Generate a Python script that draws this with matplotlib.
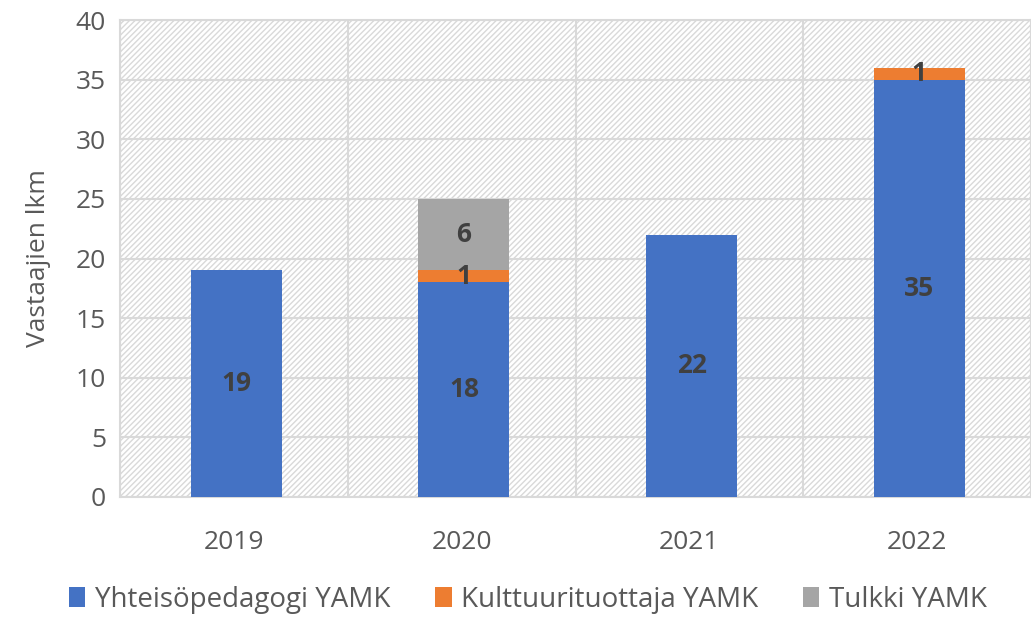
import matplotlib.pyplot as plt
import numpy as np

plt.rcParams['font.family'] = ['Open Sans', 'DejaVu Sans']
plt.rcParams['hatch.color'] = '#d9d9d9'
plt.rcParams['hatch.linewidth'] = 1.0

# Data
years = ["2019", "2020", "2021", "2022"]
yhteiso = [19, 18, 22, 35]
kulttuuri = [0, 1, 0, 1]
tulkki = [0, 6, 0, 0]

series_names = ["Yhteisöpedagogi YAMK", "Kulttuurituottaja YAMK", "Tulkki YAMK"]
colors = ["#4472c4", "#ed7d31", "#a5a5a5"]

fig = plt.figure(figsize=(10.31, 6.17), dpi=100)
ax = fig.add_axes([0.1164, 0.1945, 0.8836, 0.773])

# hatched plot background
ax.add_patch(plt.Rectangle((0, 0), 1, 1, transform=ax.transAxes, facecolor='white',
                           edgecolor='#d9d9d9', hatch='//////', lw=0, zorder=0))

x = np.arange(len(years))
w = 0.4
bottom = np.zeros(len(years))
for vals, name, c in zip([yhteiso, kulttuuri, tulkki], series_names, colors):
    vals = np.array(vals, dtype=float)
    ax.bar(x + 0.01, vals, w, bottom=bottom, color=c, label=name, zorder=3)
    for xi, v, b in zip(x, vals, bottom):
        if v > 0:
            ax.text(xi + 0.01, b + v / 2, f"{int(v)}", ha='center', va='center',
                    fontsize=19, fontweight='bold', color='#404040', zorder=4)
    bottom += vals

ax.set_xlim(-0.5, 3.5)
ax.set_ylim(0, 40)
ax.set_yticks(range(0, 41, 5))
ax.set_xticks(x)
ax.set_xticklabels(years)
ax.set_xticks(np.arange(-0.5, 4, 1), minor=True)
ax.grid(axis='y', color='#d9d9d9', lw=1.5, zorder=1)
ax.grid(axis='x', which='minor', color='#d9d9d9', lw=1.5, zorder=1)
ax.tick_params(axis='both', which='both', length=0, labelsize=19, colors='#595959')
ax.tick_params(axis='x', pad=24)
ax.tick_params(axis='y', pad=10)
for s in ax.spines.values():
    s.set_color('#d9d9d9')
    s.set_linewidth(1.5)
ax.set_ylabel("Vastaajien lkm", fontsize=19, color='#595959', labelpad=18)

fig.legend(loc='lower center', bbox_to_anchor=(0.512, -0.035), ncol=3, frameon=False,
           fontsize=20, handlelength=0.6, handleheight=0.7, handletextpad=0.35,
           columnspacing=1.6, labelcolor='#595959')

fig.savefig("out.png", dpi=100)
